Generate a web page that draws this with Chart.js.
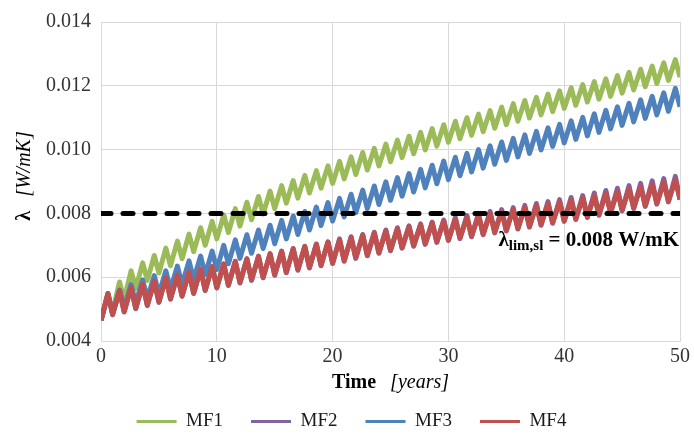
<!DOCTYPE html>
<html>
<head>
<meta charset="utf-8">
<script src="https://cdn.jsdelivr.net/npm/chart.js@4.4.1/dist/chart.umd.min.js"></script>
<style>
  html, body { margin: 0; padding: 0; background: #fff; }
</style>
</head>
<body>
<canvas id="chart-1" width="694" height="434"></canvas>
<script>
// seasonal swing: trough at each whole year, peak a little after
const peakPhase = 0.6;
const seriesNames = ["MF1", "MF2", "MF3", "MF4"];
const seriesColors = ["#9BBB59", "#8064A2", "#4F81BD", "#C0504D"];
const limitValue = 0.008;

const mf1Low = [
  0.00465, 0.00492, 0.00530, 0.00565, 0.00590, 0.00613, 0.00636, 0.00658, 0.00680, 0.00700,
  0.00720, 0.00740, 0.00760, 0.00780, 0.00798, 0.00815, 0.00832, 0.00848, 0.00864, 0.00879,
  0.00894, 0.00908, 0.00922, 0.00936, 0.00949, 0.00962, 0.00975, 0.00987, 0.00999, 0.01011,
  0.01023, 0.01034, 0.01045, 0.01056, 0.01067, 0.01078, 0.01089, 0.01099, 0.01109, 0.01119,
  0.01129, 0.01139, 0.01149, 0.01158, 0.01167, 0.01177, 0.01187, 0.01197, 0.01207, 0.01217,
  0.01227
];
const mf1High = [
  0.00547, 0.00585, 0.00620, 0.00645, 0.00668, 0.00691, 0.00713, 0.00735, 0.00755, 0.00775,
  0.00795, 0.00815, 0.00835, 0.00853, 0.00870, 0.00887, 0.00903, 0.00919, 0.00934, 0.00949,
  0.00963, 0.00977, 0.00991, 0.01004, 0.01017, 0.01030, 0.01042, 0.01054, 0.01066, 0.01078,
  0.01089, 0.01100, 0.01111, 0.01122, 0.01133, 0.01144, 0.01154, 0.01164, 0.01174, 0.01184,
  0.01194, 0.01204, 0.01213, 0.01222, 0.01232, 0.01242, 0.01252, 0.01262, 0.01272, 0.01282
];

const mf2Low = [
  0.00465, 0.00482, 0.00491, 0.00501, 0.00511, 0.00521, 0.00531, 0.00540, 0.00549, 0.00558,
  0.00566, 0.00574, 0.00582, 0.00590, 0.00598, 0.00606, 0.00614, 0.00622, 0.00629, 0.00636,
  0.00643, 0.00650, 0.00659, 0.00667, 0.00675, 0.00683, 0.00691, 0.00697, 0.00703, 0.00709,
  0.00715, 0.00721, 0.00727, 0.00733, 0.00739, 0.00745, 0.00751, 0.00757, 0.00763, 0.00769,
  0.00775, 0.00781, 0.00787, 0.00794, 0.00801, 0.00808, 0.00815, 0.00822, 0.00829, 0.00836,
  0.00843
];
const mf2High = [
  0.00549, 0.00558, 0.00568, 0.00578, 0.00588, 0.00598, 0.00607, 0.00616, 0.00625, 0.00633,
  0.00642, 0.00650, 0.00658, 0.00666, 0.00674, 0.00682, 0.00690, 0.00697, 0.00704, 0.00711,
  0.00720, 0.00727, 0.00734, 0.00741, 0.00748, 0.00755, 0.00761, 0.00767, 0.00773, 0.00779,
  0.00787, 0.00793, 0.00799, 0.00806, 0.00812, 0.00818, 0.00825, 0.00831, 0.00837, 0.00843,
  0.00850, 0.00856, 0.00864, 0.00872, 0.00879, 0.00887, 0.00894, 0.00902, 0.00909, 0.00916
];

const mf3Low = [
  0.00465, 0.00487, 0.00502, 0.00519, 0.00533, 0.00547, 0.00562, 0.00577, 0.00593, 0.00608,
  0.00624, 0.00642, 0.00659, 0.00675, 0.00690, 0.00705, 0.00720, 0.00734, 0.00748, 0.00762,
  0.00776, 0.00789, 0.00802, 0.00815, 0.00828, 0.00841, 0.00854, 0.00867, 0.00880, 0.00893,
  0.00906, 0.00918, 0.00930, 0.00942, 0.00954, 0.00966, 0.00977, 0.00988, 0.00999, 0.01010,
  0.01021, 0.01032, 0.01043, 0.01054, 0.01065, 0.01076, 0.01087, 0.01098, 0.01109, 0.01120,
  0.01134
];
const mf3High = [
  0.00545, 0.00560, 0.00577, 0.00591, 0.00605, 0.00620, 0.00635, 0.00651, 0.00666, 0.00682,
  0.00700, 0.00717, 0.00733, 0.00748, 0.00763, 0.00778, 0.00792, 0.00806, 0.00820, 0.00834,
  0.00847, 0.00860, 0.00873, 0.00886, 0.00899, 0.00912, 0.00925, 0.00938, 0.00951, 0.00964,
  0.00976, 0.00988, 0.01000, 0.01012, 0.01024, 0.01035, 0.01046, 0.01057, 0.01068, 0.01079,
  0.01090, 0.01101, 0.01112, 0.01123, 0.01134, 0.01145, 0.01156, 0.01167, 0.01178, 0.01192
];

const mf4Low = [
  0.00465, 0.00484, 0.00493, 0.00503, 0.00513, 0.00523, 0.00533, 0.00542, 0.00551, 0.00560,
  0.00568, 0.00576, 0.00584, 0.00592, 0.00600, 0.00608, 0.00616, 0.00624, 0.00631, 0.00638,
  0.00645, 0.00652, 0.00661, 0.00669, 0.00677, 0.00685, 0.00693, 0.00699, 0.00705, 0.00711,
  0.00717, 0.00723, 0.00729, 0.00735, 0.00741, 0.00747, 0.00753, 0.00759, 0.00765, 0.00771,
  0.00777, 0.00783, 0.00789, 0.00796, 0.00803, 0.00810, 0.00817, 0.00824, 0.00831, 0.00838,
  0.00845
];
const mf4High = [
  0.00549, 0.00558, 0.00568, 0.00578, 0.00588, 0.00598, 0.00607, 0.00616, 0.00625, 0.00633,
  0.00641, 0.00649, 0.00657, 0.00665, 0.00673, 0.00681, 0.00689, 0.00696, 0.00703, 0.00710,
  0.00717, 0.00724, 0.00731, 0.00738, 0.00745, 0.00752, 0.00758, 0.00764, 0.00770, 0.00776,
  0.00782, 0.00788, 0.00794, 0.00800, 0.00806, 0.00812, 0.00818, 0.00824, 0.00830, 0.00836,
  0.00842, 0.00848, 0.00855, 0.00862, 0.00869, 0.00876, 0.00883, 0.00890, 0.00897, 0.00904
];

const lows = [mf1Low, mf2Low, mf3Low, mf4Low];
const highs = [mf1High, mf2High, mf3High, mf4High];

// interleave troughs and peaks into one point list per series
function buildPoints(low, high) {
  const pts = [];
  for (let k = 0; k < low.length; k++) {
    pts.push({ x: k, y: low[k] });
    if (k < high.length) pts.push({ x: k + peakPhase, y: high[k] });
  }
  return pts;
}

const datasets = seriesNames.map((name, i) => ({
  label: name,
  data: buildPoints(lows[i], highs[i]),
  borderColor: seriesColors[i],
  backgroundColor: seriesColors[i],
  borderWidth: 5,
  pointRadius: 0,
  tension: 0,
  borderJoinStyle: "round",
  order: 4 - i
}));

datasets.push({
  label: "limit",
  data: [{ x: 0, y: limitValue }, { x: 50, y: limitValue }],
  borderColor: "#000",
  borderWidth: 5,
  borderDash: [10, 12],
  borderCapStyle: "round",
  pointRadius: 0,
  order: 0
});

const serif = '"Liberation Serif", "Times New Roman", serif';

const titlesPlugin = {
  id: "axisTitles",
  afterDraw(chart) {
    const { ctx, chartArea, scales } = chart;
    ctx.save();
    ctx.fillStyle = "#000";
    ctx.textBaseline = "alphabetic";

    // x axis title
    const boldF = "bold 20px " + serif;
    const italF = "italic 20px " + serif;
    ctx.font = boldF;
    const wTime = ctx.measureText("Time").width;
    ctx.font = italF;
    const wYears = ctx.measureText("[years]").width;
    const gap = 14;
    let x0 = (chartArea.left + chartArea.right) / 2 - (wTime + gap + wYears) / 2;
    ctx.font = boldF;
    ctx.fillText("Time", x0, 388);
    ctx.font = italF;
    ctx.fillText("[years]", x0 + wTime + gap, 388);

    // y axis title
    ctx.font = boldF;
    const wLam = ctx.measureText("λ").width;
    ctx.font = italF;
    const wUnit = ctx.measureText("[W/mK]").width;
    ctx.translate(30, 176);
    ctx.rotate(-Math.PI / 2);
    let y0 = -(wLam + gap + wUnit) / 2;
    ctx.font = boldF;
    ctx.fillText("λ", y0, 0);
    ctx.font = italF;
    ctx.fillText("[W/mK]", y0 + wLam + gap, 0);
    ctx.setTransform(1, 0, 0, 1, 0, 0);

    // limit annotation
    const base = scales.y.getPixelForValue(limitValue) + 33;
    const bigF = "bold 21px " + serif;
    const subF = "bold 15px " + serif;
    const rest = " = 0.008 W/mK";
    ctx.font = bigF;
    const wL = ctx.measureText("λ").width;
    const wR = ctx.measureText(rest).width;
    ctx.font = subF;
    const wS = ctx.measureText("lim,sl").width;
    let ax = chartArea.right - 1 - (wL + wS + wR);
    ctx.font = bigF;
    ctx.fillText("λ", ax, base);
    ctx.font = subF;
    ctx.fillText("lim,sl", ax + wL, base + 4);
    ctx.font = bigF;
    ctx.fillText(rest, ax + wL + wS, base);
    ctx.restore();
  }
};

const ctx1 = document.getElementById("chart-1").getContext("2d");
const myChart = new Chart(ctx1, {
  type: "line",
  data: { datasets: datasets },
  options: {
    responsive: false,
    animation: false,
    devicePixelRatio: 1,
    layout: { padding: { left: 20, right: 11, top: 15, bottom: -7 } },
    scales: {
      x: {
        type: "linear",
        min: 0,
        max: 50,
        ticks: {
          stepSize: 10,
          padding: 4,
          color: "#333",
          font: { family: serif, size: 20 }
        },
        grid: { color: "#d9d9d9", drawTicks: false },
        border: { color: "#d9d9d9" },
        afterFit: (s) => { s.height = 43; }
      },
      y: {
        min: 0.004,
        max: 0.014,
        ticks: {
          stepSize: 0.002,
          padding: 10,
          color: "#333",
          font: { family: serif, size: 20 },
          callback: (v) => v.toFixed(3)
        },
        grid: { color: "#d9d9d9", drawTicks: false },
        border: { color: "#d9d9d9" },
        afterFit: (s) => { s.width = 81; }
      }
    },
    plugins: {
      legend: {
        position: "bottom",
        labels: {
          usePointStyle: true,
          pointStyle: "line",
          pointStyleWidth: 40,
          boxWidth: 40,
          padding: 28,
          color: "#1a1a1a",
          font: { family: serif, size: 19 },
          filter: (item) => item.datasetIndex < 4,
          sort: (a, b) => a.datasetIndex - b.datasetIndex,
          generateLabels: (chart) => {
            const items = Chart.defaults.plugins.legend.labels.generateLabels(chart);
            items.forEach((it) => { it.lineWidth = 3; });
            return items;
          }
        }
      },
      tooltip: { enabled: false }
    }
  },
  plugins: [titlesPlugin]
});
</script>
</body>
</html>
